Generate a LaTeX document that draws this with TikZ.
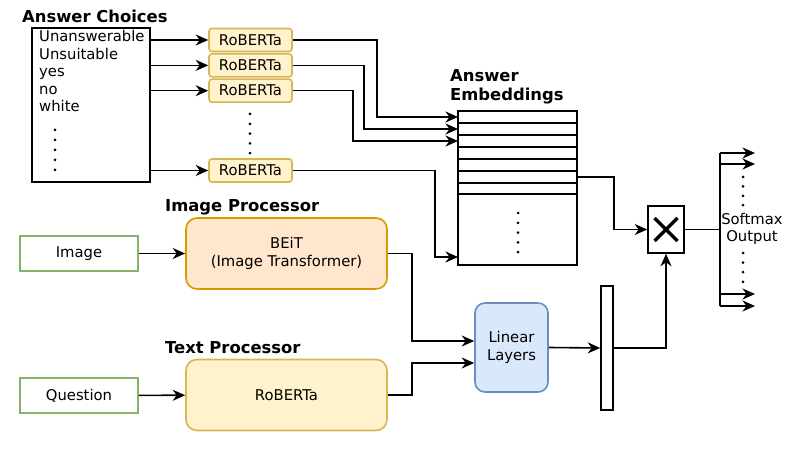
\documentclass[tikz,border=0pt]{standalone}
\usepackage{fontspec}
\setmainfont{DejaVu Sans}
\usetikzlibrary{arrows.meta, positioning}

\definecolor{robfill}{HTML}{FFF2CC}
\definecolor{robdraw}{HTML}{D6B656}
\definecolor{beitfill}{HTML}{FFE6CC}
\definecolor{beitdraw}{HTML}{D79B00}
\definecolor{linfill}{HTML}{DAE8FC}
\definecolor{lindraw}{HTML}{6C8EBF}
\definecolor{indraw}{HTML}{82B366}

\begin{document}
\begin{tikzpicture}[
  x=1pt, y=-1pt,
  font=\fontsize{14.8}{17.6}\selectfont,
  box/.style={rectangle, draw, line width=1.6pt, inner sep=0pt, align=center},
  robbox/.style={box, rounded corners=3pt, fill=robfill, draw=robdraw,
                 minimum width=83pt, minimum height=23pt},
  procbox/.style={box, rounded corners=11pt, minimum width=201pt, minimum height=71pt},
  beitbox/.style={procbox, fill=beitfill, draw=beitdraw},
  textbox/.style={procbox, fill=robfill, draw=robdraw},
  linbox/.style={box, rounded corners=10pt, fill=linfill, draw=lindraw,
                 minimum width=73pt, minimum height=89pt},
  inbox/.style={box, draw=indraw, minimum width=118pt, minimum height=35pt},
  title/.style={font=\fontsize{16.4}{19}\selectfont\bfseries, inner sep=0pt, align=left},
  arr/.style={-{Stealth[length=12.5pt, width=11pt, inset=4pt]}, line width=1.6pt},
  wire/.style={line width=1.6pt},
  dot/.style={circle, fill, inner sep=0pt, minimum size=3pt},
]
\useasboundingbox (0,0) rectangle (804,457);

%% Answer choices
\node[title, anchor=base west] (anstitle) at (22,23) {Answer Choices};
\node[box, minimum width=118pt, minimum height=154pt] (choices) at (91,105) {};
\foreach \t [count=\i] in {Unanswerable, Unsuitable, yes, no, white}
  \node[anchor=base west, inner sep=0pt] (c\i) at (39,{42+17.5*(\i-1)}) {\t};
\foreach \i in {0,...,4} \node[dot] at (55,{130+10*\i}) {};

%% RoBERTa encoders for the answers
\node[robbox]                    (rob1) at (250.5,40) {RoBERTa};
\node[robbox, below=0.75pt of rob1] (rob2) {RoBERTa};
\node[robbox, below=0.75pt of rob2] (rob3) {RoBERTa};
\node[robbox]                    (rob4) at (250.5,170.5) {RoBERTa};
\foreach \i in {0,...,4} \node[dot] at (250,{114+9.8*\i}) {};

\foreach \i in {1,...,4}
  \draw[arr] (choices.east |- rob\i) -- (rob\i);

%% Answer embeddings
\node[title, anchor=south west] (embtitle) at (450,104) {Answer\\Embeddings};
\node[box, minimum width=119pt, minimum height=154pt] (embed) at (517.5,188) {};
\foreach \y in {123,135,147,159,171,183,194}
  \draw[wire] (embed.west |- 0,\y) -- (embed.east |- 0,\y);
\foreach \i in {0,...,4} \node[dot] at (518,{213+9.8*\i}) {};

\coordinate (e1) at (458,117);
\coordinate (e2) at (458,129);
\coordinate (e3) at (458,141);
\coordinate (e4) at (458,257);
\draw[arr] (rob1.east) -- ++(84,0)  |- (e1);
\draw[arr] (rob2.east) -- ++(71,0)  |- (e2);
\draw[arr] (rob3.east) -- ++(60,0)  |- (e3);
\draw[arr] (rob4.east) -- ++(142,0) |- (e4);

%% Image and text processors
\node[inbox] (image)    at (79,253.5) {Image};
\node[inbox] (question) at (79,395.5) {Question};
\node[beitbox] (beit)    at (286.5,253.5) {BEiT\\(Image Transformer)};
\node[textbox] (textenc) at (286.5,395)   {RoBERTa};
\node[title, anchor=base west] (imgtitle) at (165,212) {Image Processor};
\node[title, anchor=base west] (txttitle) at (165,354) {Text Processor};

\draw[arr] (image) -- (beit);
\draw[arr] (question) -- (textenc);

%% Fusion
\node[linbox] (linear) at (511.5,347.5) {Linear\\Layers};
\node[box, minimum width=12pt, minimum height=124pt] (bar) at (607,348) {};
\node[box, minimum width=36pt, minimum height=47pt] (mul) at (666,229.5) {};
\draw[line width=3.2pt] ([shift={(-11.5,-11.5)}]mul.center) -- ([shift={(11.5,11.5)}]mul.center);
\draw[line width=3.2pt] ([shift={(-11.5,11.5)}]mul.center) -- ([shift={(11.5,-11.5)}]mul.center);

\draw[arr] (beit.east) -- ++(24,0) |- ([yshift=6.5pt]linear.west);
\draw[arr] (textenc.east) -- ++(24,0) |- ([yshift=-15.5pt]linear.west);
\draw[arr] (linear.east) -- (bar.west);
\draw[arr] (bar.east) -| (mul.south);
\draw[arr] (embed.east |- 0,177) -- ++(36,0) |- (mul);

%% Softmax output
\coordinate (fan) at (720,229.5);
\draw[wire] (mul.east) -- (fan);
\draw[wire] (fan |- 0,153) -- (fan |- 0,306);
\foreach \y in {153,164,294,306}
  \draw[arr] (fan |- 0,\y) -- ++(35,0);
\node[align=center, inner sep=0pt] (soft) at (752,229) {Softmax\\Output};
\foreach \i in {0,...,3} {
  \node[dot] at (743,{177+9.4*\i}) {};
  \node[dot] at (743,{253+9.6*\i}) {};
}

\end{tikzpicture}
\end{document}
